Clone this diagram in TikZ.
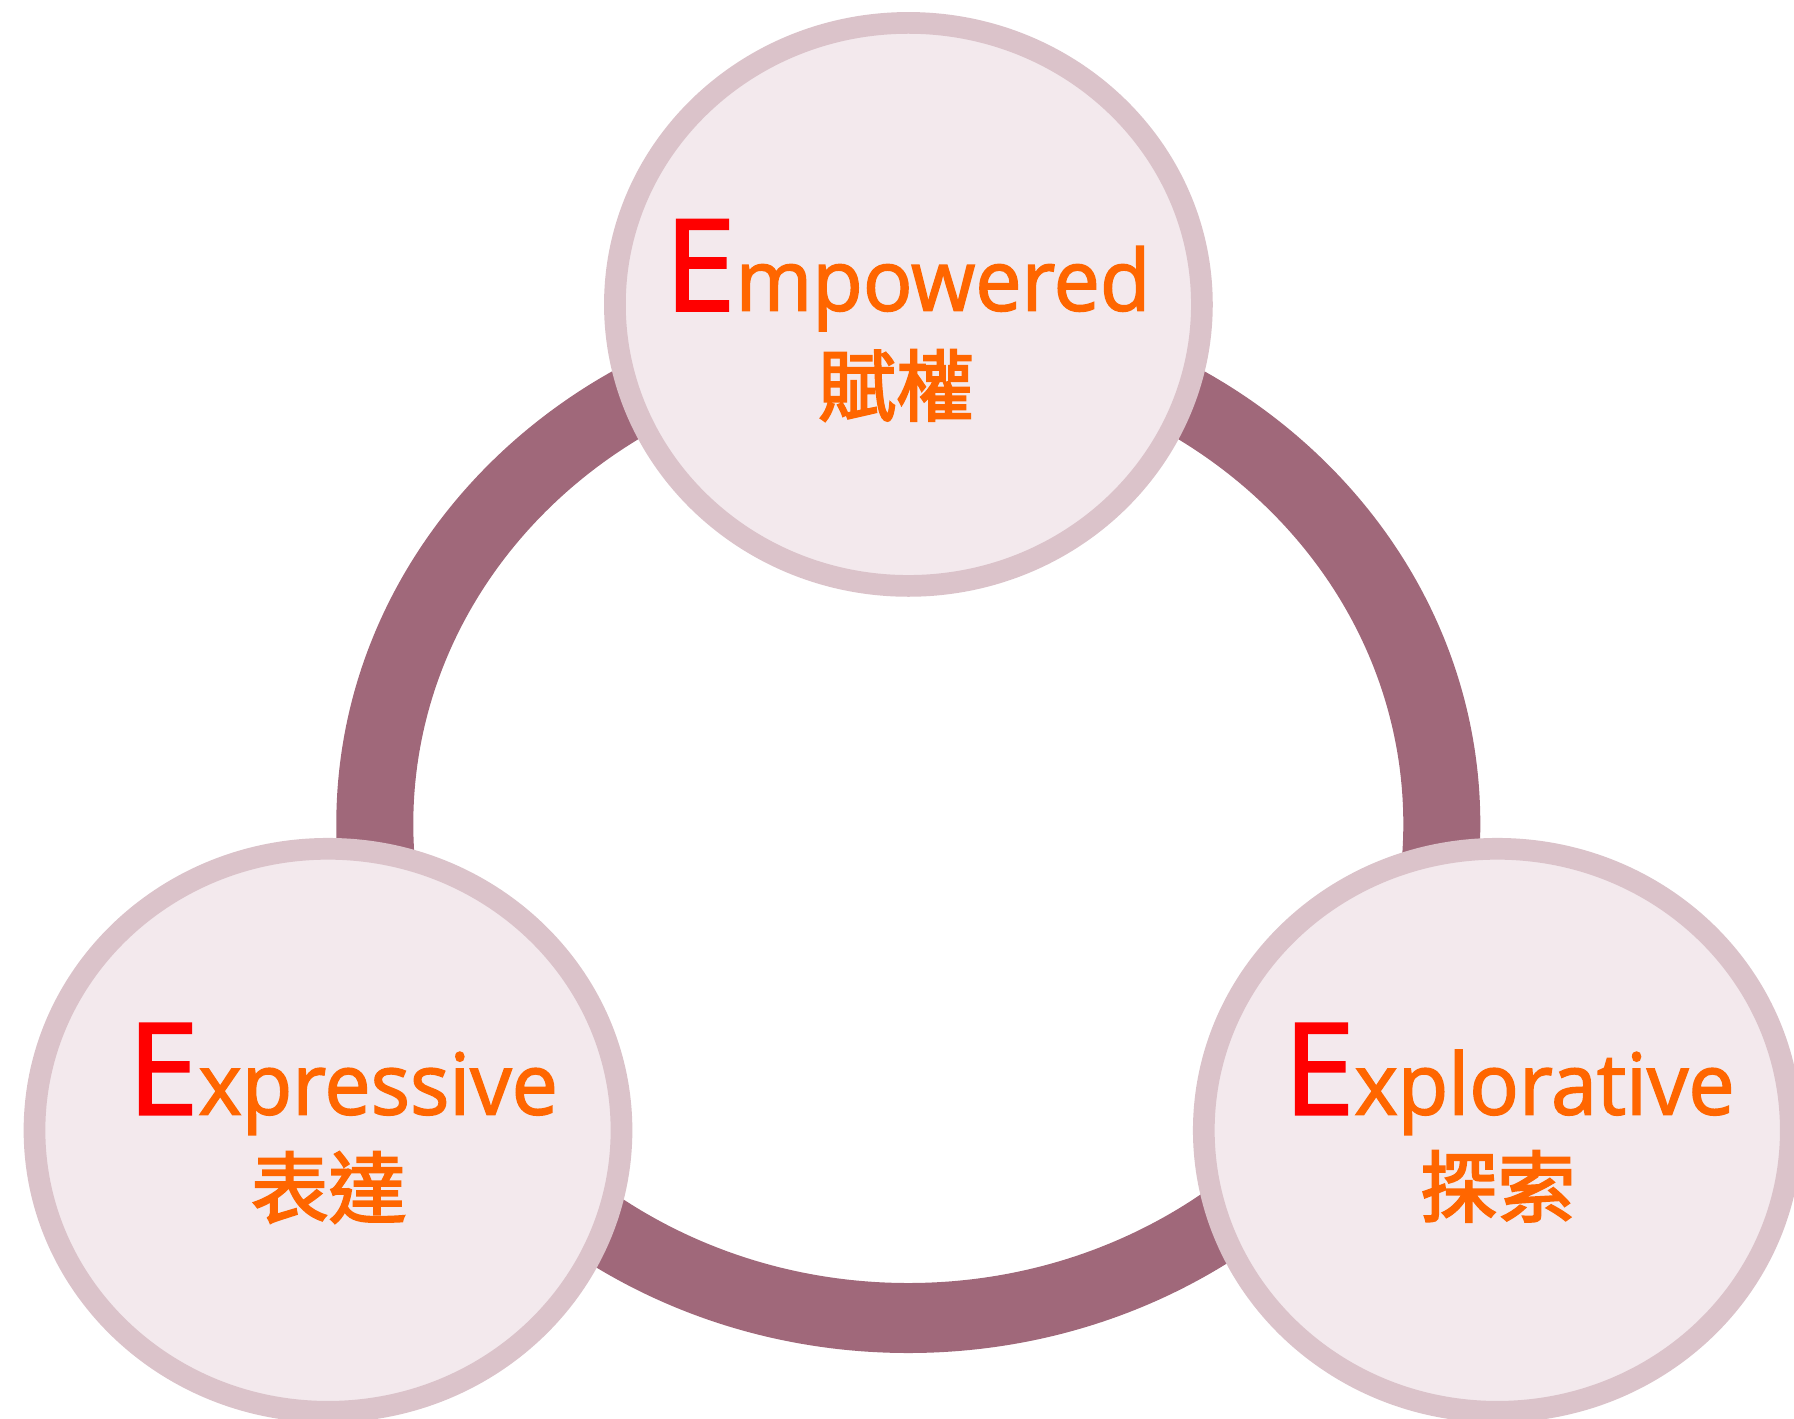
\documentclass[tikz,border=0pt]{standalone}
\usepackage{fontspec}
\setmainfont{Open Sans}
\newfontfamily\latinfont{Open Sans}[FakeBold=1.8, FakeStretch=0.97]
\newfontfamily\capfont{Open Sans}[FakeBold=1.8]
\newfontfamily\cjk{Noto Sans CJK TC}[FakeBold=2.6]
\usetikzlibrary{shapes.geometric}
\definecolor{ringc}{HTML}{A0687A}
\definecolor{circline}{HTML}{DBC3CA}
\definecolor{circfill}{HTML}{F3E9ED}
\definecolor{txtorange}{HTML}{FF6600}
\definecolor{txtred}{HTML}{FF0000}
\tikzset{
  bubble/.style={ellipse, draw=circline, fill=circfill, line width=21.7bp,
    minimum width=587bp, minimum height=563bp, inner sep=0pt},
  engtext/.style={anchor=base west, inner sep=0pt, text=txtorange},
  cjktext/.style={anchor=base, inner sep=0pt, text=txtorange,
    font=\cjk\fontsize{78}{80}\selectfont},
}
\newcommand{\bigE}{{\capfont\fontsize{128}{128}\selectfont\textcolor{txtred}{E}}}
\newcommand{\smallword}[1]{{\latinfont\fontsize{85.4}{90}\selectfont #1}}
\begin{document}
\begin{tikzpicture}[x=1bp, y=-1bp]
\useasboundingbox (0,0) rectangle (1794,1419);
\clip (0,0) rectangle (1794,1419);
% ring
\fill[ringc, even odd rule] (908.3,824) ellipse [x radius=572bp, y radius=529bp]
  (908.3,824) ellipse [x radius=495bp, y radius=459bp];
% bubbles
\node[bubble] (top) at (908.4,304.4) {};
\node[bubble] (left) at (328,1130.3) {};
\node[bubble] (right) at (1497.3,1130.3) {};
% texts
\node[engtext] (emp) at (664.4,310.7) {\bigE\smallword{mpowered}};
\node[cjktext] (empc) at (896,415) {賦權};
\node[engtext] (exp) at (127.4,1114.5) {\bigE\smallword{xpressive}};
\node[cjktext] (expc) at (328.6,1217) {表達};
\node[engtext] (expl) at (1283.4,1114.5) {\bigE\smallword{xplorative}};
\node[cjktext] (explc) at (1497.5,1216) {探索};
\end{tikzpicture}
\end{document}
